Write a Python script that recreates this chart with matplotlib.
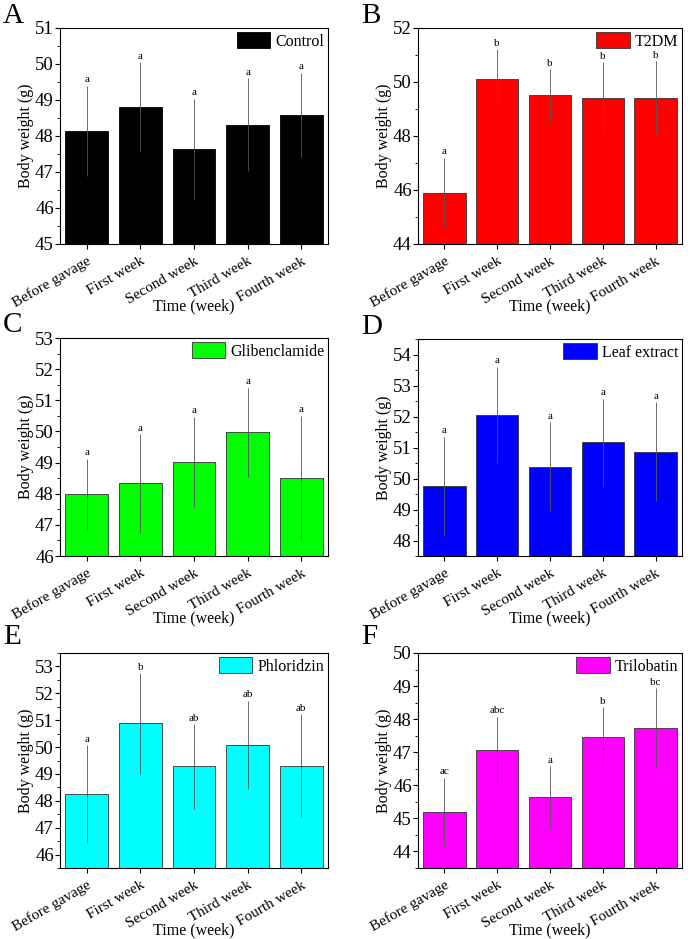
import matplotlib
matplotlib.use("Agg")
import matplotlib.pyplot as plt
from matplotlib.ticker import MultipleLocator

plt.rcParams["font.family"] = ["Liberation Serif", "DejaVu Serif"]
plt.rcParams["mathtext.fontset"] = "stix"

weeks = ["Before gavage", "First week", "Second week", "Third week", "Fourth week"]

control_mean = [48.15, 48.81, 47.64, 48.31, 48.59]
control_err = [1.25, 1.24, 1.40, 1.29, 1.17]
control_sig = ["a", "a", "a", "a", "a"]

t2dm_mean = [45.89, 50.11, 49.52, 49.40, 49.40]
t2dm_err = [1.31, 1.10, 0.95, 1.33, 1.37]
t2dm_sig = ["a", "b", "b", "b", "b"]

glib_mean = [47.99, 48.33, 49.02, 49.97, 48.50]
glib_err = [1.14, 1.58, 1.45, 1.44, 2.00]
glib_sig = ["a", "a", "a", "a", "a"]

leaf_mean = [49.75, 52.05, 50.38, 51.17, 50.86]
leaf_err = [1.60, 1.56, 1.44, 1.41, 1.60]
leaf_sig = ["a", "a", "a", "a", "a"]

phlor_mean = [48.25, 50.88, 49.28, 50.08, 49.30]
phlor_err = [1.83, 1.87, 1.57, 1.65, 1.92]
phlor_sig = ["a", "b", "ab", "ab", "ab"]

trilo_mean = [45.19, 47.08, 45.64, 47.47, 47.73]
trilo_err = [1.04, 1.00, 0.93, 0.90, 1.21]
trilo_sig = ["ac", "abc", "a", "b", "bc"]

panels = [
    ("A", "Control", "#000000", control_mean, control_err, control_sig, (45, 51), 1, 0.5),
    ("B", "T2DM", "#ff0000", t2dm_mean, t2dm_err, t2dm_sig, (44, 52), 2, 1),
    ("C", "Glibenclamide", "#00ff00", glib_mean, glib_err, glib_sig, (46, 53), 1, 0.5),
    ("D", "Leaf extract", "#0000ff", leaf_mean, leaf_err, leaf_sig, (47.5, 54.5), 1, 0.5),
    ("E", "Phloridzin", "#00ffff", phlor_mean, phlor_err, phlor_sig, (45.5, 53.5), 1, 0.5),
    ("F", "Trilobatin", "#ff00ff", trilo_mean, trilo_err, trilo_sig, (43.5, 50), 1, 0.5),
]

W, H = 690, 939
fig = plt.figure(figsize=(W / 100, H / 100), dpi=100)

# axes boxes in pixels: left, top, right, bottom
boxes = [
    (60, 28, 328, 244), (418, 28, 682, 244),
    (60, 338, 328, 556), (418, 339, 682, 556),
    (60, 653, 328, 868), (418, 653, 682, 868),
]
letter_pos = [(3, 3), (361, 3), (3, 312), (361, 314), (3, 624), (361, 624)]

x = list(range(len(weeks)))
for (letter, name, color, mean, err, sig, ylim, major, minor), box, lp in zip(panels, boxes, letter_pos):
    l, t, r, b = box
    ax = fig.add_axes([l / W, 1 - b / H, (r - l) / W, (b - t) / H])
    edge = "#333333" if color != "#000000" else "#000000"
    ax.bar(x, mean, width=0.8, color=color, edgecolor=edge, linewidth=0.6,
           label=name, zorder=2)
    ax.errorbar(x, mean, yerr=err, fmt="none", ecolor="#555555",
                elinewidth=0.6, capsize=0, zorder=3)
    for xi, m, e, s in zip(x, mean, err, sig):
        ax.annotate(s, (xi, m + e), xytext=(0, 1), textcoords="offset points",
                    ha="center", va="bottom", fontsize=8)
    ax.set_xlim(-0.5, 4.5)
    ax.set_ylim(*ylim)
    ax.yaxis.set_major_locator(MultipleLocator(major))
    ax.yaxis.set_minor_locator(MultipleLocator(minor))
    ax.set_xticks(x)
    ax.set_xticklabels(weeks, rotation=30, ha="right", rotation_mode="anchor")
    ax.tick_params(axis="both", which="major", direction="out", length=3.5,
                   width=0.8)
    ax.tick_params(axis="x", labelsize=11, pad=4)
    ax.tick_params(axis="y", which="minor", direction="out", length=2, width=0.6)
    ax.tick_params(axis="y", labelsize=13.5, pad=1)
    ax.set_xlabel("Time (week)", fontsize=11.5, va="top")
    ax.xaxis.set_label_coords(0.5, -54 / (b - t))
    ax.set_ylabel("Body weight (g)", fontsize=11.5, labelpad=1)
    for sp in ax.spines.values():
        sp.set_linewidth(0.8)
    ax.legend(loc="upper right", frameon=False, fontsize=11.5, handlelength=2.1,
              handleheight=1.2, handletextpad=0.3, borderaxespad=0.1,
              borderpad=0.15)
    fig.text(lp[0] / W, 1 - lp[1] / H, letter, fontsize=21, ha="left", va="top")

fig.savefig("out.png", dpi=100)
plt.close(fig)
